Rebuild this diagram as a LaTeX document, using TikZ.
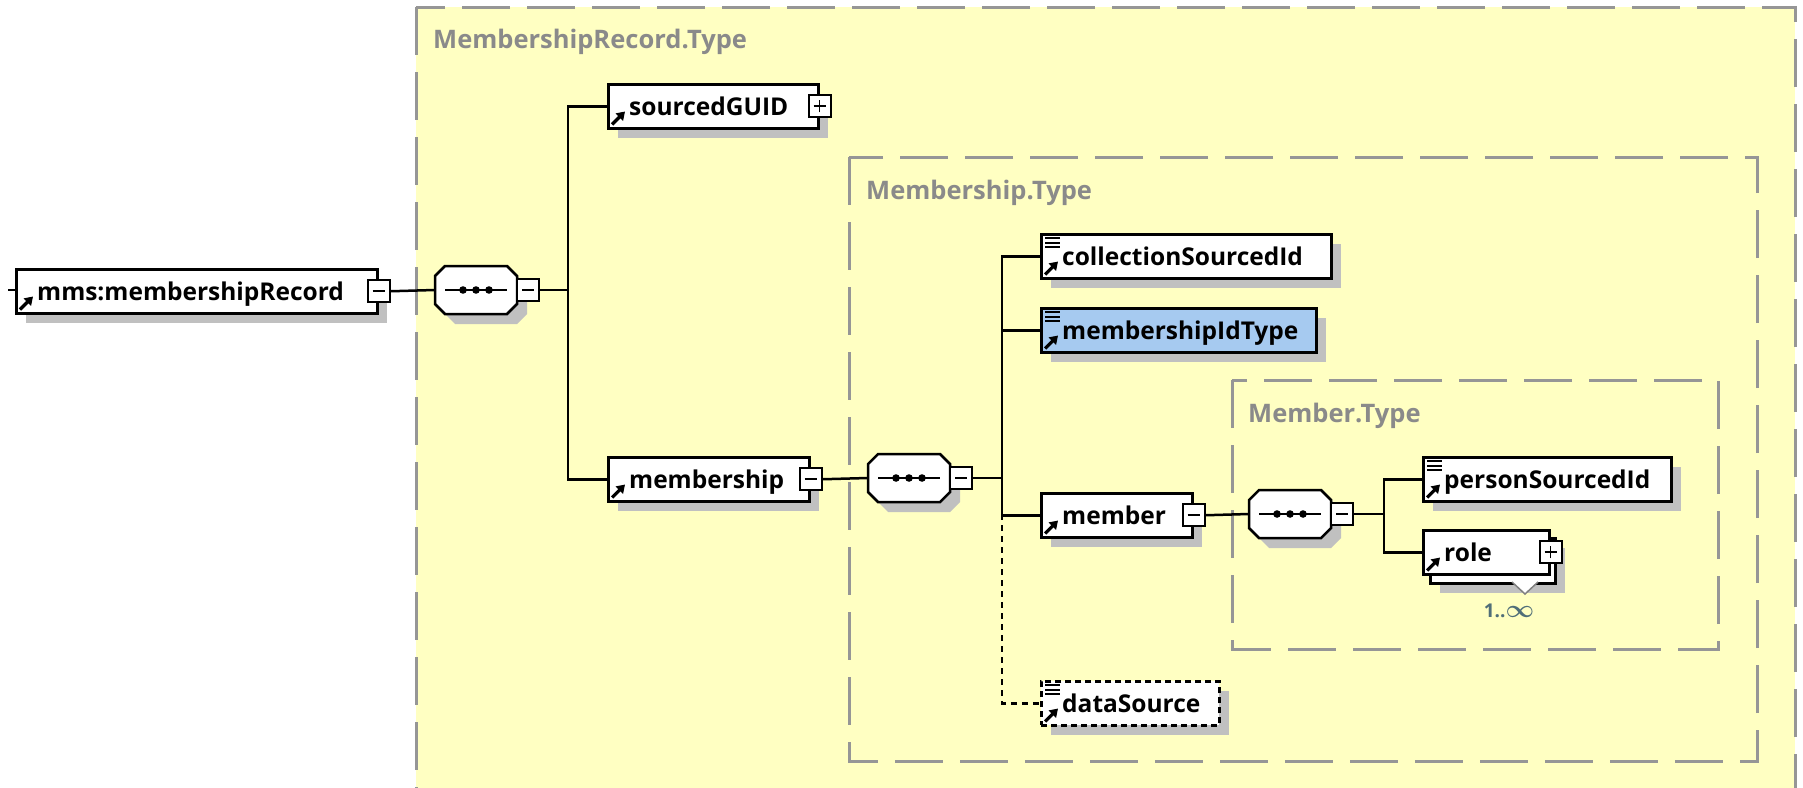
\documentclass[tikz,border=0pt]{standalone}
\usepackage{amsmath}
\usepackage{fontspec}
\setmainfont{Open Sans}
\usetikzlibrary{shadows,arrows.meta}
\definecolor{yel}{RGB}{255,255,194}
\definecolor{bord}{RGB}{150,150,150}
\definecolor{ttl}{RGB}{138,138,138}
\definecolor{shd}{RGB}{192,192,192}
\definecolor{selblue}{RGB}{166,202,240}
\definecolor{mult}{RGB}{80,110,120}
\definecolor{trigray}{RGB}{128,128,128}
\tikzset{
  typebox/.style={draw=bord, fill=yel, line width=3pt, dash pattern=on 48pt off 17pt},
  ttltext/.style={text=ttl, font=\fontsize{25.5}{29}\selectfont\bfseries, inner sep=0pt, anchor=base west},
  elemns/.style={draw=black, fill=white, line width=2.5pt, rectangle, inner sep=0pt, minimum height=44pt, anchor=north west},
  elem/.style={elemns, drop shadow={shadow xshift=10pt, shadow yshift=-10pt, fill=shd, opacity=1}},
  lbl/.style={font=\fontsize{24.5}{28}\selectfont\bfseries, inner sep=0pt, anchor=base west},
  expbox/.style={draw=black, fill=white, line width=2pt, minimum width=22pt, minimum height=22pt, inner sep=0pt},
  sign/.style={line width=1.6pt},
  conn/.style={line width=2.5pt, draw=black},
  dconn/.style={conn, dash pattern=on 6pt off 5pt},
  octo/.style={draw=black, fill=white, line width=2.5pt},
  seqframe/.style={rectangle, minimum width=82pt, minimum height=48pt, inner sep=0pt},
  refarrow/.style={line width=3.2pt, -{Triangle[length=8pt,width=10pt]}},
}
\newcommand\XpMinus[2]{\node[expbox] (#1) at (#2) {};
  \draw[sign] ([xshift=-6pt]#1.center) -- ([xshift=6pt]#1.center);}
\newcommand\XpPlus[2]{\node[expbox] (#1) at (#2) {};
  \draw[sign] ([xshift=-6pt]#1.center) -- ([xshift=6pt]#1.center);
  \draw[sign] ([yshift=-6pt]#1.center) -- ([yshift=6pt]#1.center);}
\newcommand\RefIcon[1]{\draw[refarrow] ([xshift=5pt,yshift=5pt]#1.south west) -- ++(13pt,13pt);}
\newcommand\SimpleIcon[1]{\foreach \d in {5,9.5,14} {\draw[line width=2pt] ([xshift=5pt,yshift=-\d pt]#1.north west) -- ++(15pt,0pt);}}
\newcommand\SeqNode[3]{%
  \fill[shd, shift={(10,10)}] ({#2-31},{#3-24}) -- ({#2+31},{#3-24}) -- ({#2+41},{#3-14}) -- ({#2+41},{#3+14}) -- ({#2+31},{#3+24}) -- ({#2-31},{#3+24}) -- ({#2-41},{#3+14}) -- ({#2-41},{#3-14}) -- cycle;
  \draw[octo] ({#2-31},{#3-24}) -- ({#2+31},{#3-24}) -- ({#2+41},{#3-14}) -- ({#2+41},{#3+14}) -- ({#2+31},{#3+24}) -- ({#2-31},{#3+24}) -- ({#2-41},{#3+14}) -- ({#2-41},{#3-14}) -- cycle;
  \node[seqframe] (#1) at (#2,#3) {};
  \draw[line width=2pt] ([xshift=-31pt]#1.center) -- ([xshift=31pt]#1.center);
  \foreach \dx in {-13,0,13} {\fill ([xshift=\dx pt]#1.center) circle (3.8pt);}
  \XpMinus{#1x}{{#2+52},#3}}
\begin{document}
\begin{tikzpicture}[x=1pt,y=-1pt]
\useasboundingbox (0,0) rectangle (1803,787);
\clip (0,0) rectangle (1803,787);
\fill[white] (0,0) rectangle (1803,787);
% type frames
\path[typebox] (416,7) rectangle (1795,820);
\path[typebox] (849,157) rectangle (1757,761);
\path[typebox] (1232,380) rectangle (1718,649);
\node[ttltext] (t1) at (433,48) {MembershipRecord.Type};
\node[ttltext] (t2) at (866,199) {Membership.Type};
\node[ttltext] (t3) at (1248,422) {Member.Type};
% junction coordinates
\coordinate (stub) at (8,290);
\coordinate (j1) at (568,290);
\coordinate (j2) at (1002,478);
\coordinate (j2b) at (1002,514);
\coordinate (j3) at (1384,514);
% elements
\node[elem, minimum width=361pt] (root) at (15,268) {};
\node[elem, minimum width=210pt] (guid) at (607,83) {};
\node[elem, minimum width=201pt] (mship) at (607,456) {};
\node[elem, minimum width=290pt] (coll) at (1040,233) {};
\node[elem, fill=selblue, minimum width=275pt] (mid) at (1040,307) {};
\node[elem, minimum width=151pt] (mem) at (1040,492) {};
\node[elem, dash pattern=on 6pt off 4pt, minimum width=178pt] (ds) at (1040,680) {};
\node[elem, minimum width=248pt] (pers) at (1422,456) {};
\node[elem, minimum width=125pt, minimum height=45pt] (rolebk) at (1429,537) {};
\node[elemns, minimum width=126pt] (role) at (1422,529) {};
\filldraw[draw=trigray, fill=white, line width=1.5pt] (1512,582) -- (1525,594) -- (1538,582);
\node[font=\fontsize{19}{22}\selectfont\bfseries, text=mult, inner sep=0pt, anchor=base] (mul) at (1509,617) {1..{\fontsize{25}{25}\selectfont$\boldsymbol{\infty}$}};
% sequences
\SeqNode{s1}{476}{290}
\SeqNode{s2}{909}{478}
\SeqNode{s3}{1290}{514}
% expanders
\XpMinus{rootx}{root.east}
\XpPlus{guidx}{guid.east}
\XpMinus{mshipx}{mship.east}
\XpMinus{memx}{mem.east}
\XpPlus{rolex}{role.east}
% connectors
\draw[conn] (stub) -- (stub -| root.west);
\draw[conn] (rootx.east) -- (s1.west);
\draw[conn] (s1x.east) -- (j1);
\draw[conn] (j1) |- (guid.west);
\draw[conn] (j1) |- (mship.west);
\draw[conn] (mshipx.east) -- (s2.west);
\draw[conn] (s2x.east) -- (j2);
\draw[conn] (j2) |- (coll.west);
\draw[conn] (j2) |- (mid.west);
\draw[conn] (j2) |- (mem.west);
\draw[dconn] (j2b) |- (ds.west);
\draw[conn] (memx.east) -- (s3.west);
\draw[conn] (s3x.east) -- (j3);
\draw[conn] (j3) |- (pers.west);
\draw[conn] (j3) |- (role.west);
% labels
\node[lbl] (l-root) at ([xshift=22pt,yshift=-9pt]root.west) {mms:membershipRecord};
\node[lbl] (l-guid) at ([xshift=22pt,yshift=-9pt]guid.west) {sourcedGUID};
\node[lbl] (l-mship) at ([xshift=22pt,yshift=-9pt]mship.west) {membership};
\node[lbl] (l-coll) at ([xshift=22pt,yshift=-9pt]coll.west) {collectionSourcedId};
\node[lbl] (l-mid) at ([xshift=22pt,yshift=-9pt]mid.west) {membershipIdType};
\node[lbl] (l-mem) at ([xshift=22pt,yshift=-9pt]mem.west) {member};
\node[lbl] (l-ds) at ([xshift=22pt,yshift=-9pt]ds.west) {dataSource};
\node[lbl] (l-pers) at ([xshift=22pt,yshift=-9pt]pers.west) {personSourcedId};
\node[lbl] (l-role) at ([xshift=22pt,yshift=-9pt]role.west) {role};
% icons
\RefIcon{root}\RefIcon{guid}\RefIcon{mship}\RefIcon{coll}\RefIcon{mid}
\RefIcon{mem}\RefIcon{ds}\RefIcon{pers}\RefIcon{role}
\SimpleIcon{coll}\SimpleIcon{mid}\SimpleIcon{ds}\SimpleIcon{pers}
\end{tikzpicture}
\end{document}
